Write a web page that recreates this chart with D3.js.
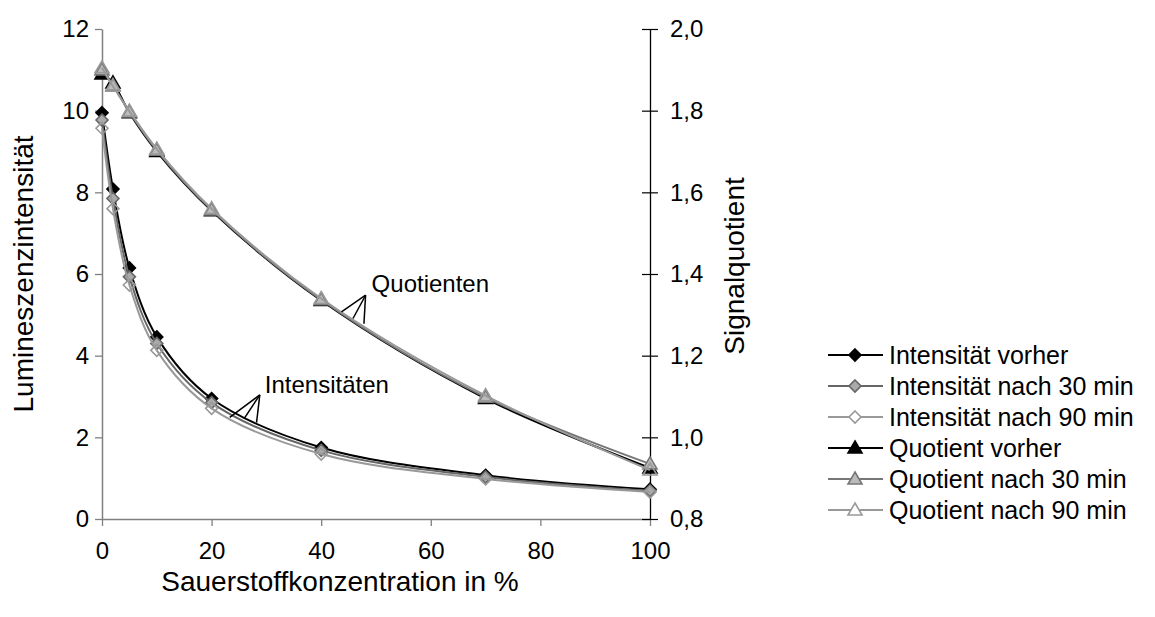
<!DOCTYPE html>
<html lang="de">
<head>
    <meta charset="UTF-8">
    <title>Lumineszenzintensität und Signalquotient</title>
    <script src="https://d3js.org/d3.v7.min.js"></script>
    <style>
        body { margin: 0; background: #fff; }
        svg { font-family: "Liberation Sans", Arial, sans-serif; }
        .tick text { font-size: 24px; fill: #000; }
        .axis-title { font-size: 28px; fill: #000; }
        .note { font-size: 24px; fill: #000; }
        .legend text { font-size: 25px; fill: #000; }
    </style>
</head>
<body>
    <svg width="1155" height="617"></svg>

    <script>
        // Sauerstoffkonzentration in %
        const oxygen = [0, 2, 5, 10, 20, 40, 70, 100];

        // Lumineszenzintensität (linke Achse)
        const intVorher = [9.95, 8.08, 6.15, 4.46, 2.95, 1.75, 1.07, 0.73];
        const int30 = [9.77, 7.85, 5.93, 4.30, 2.85, 1.68, 1.03, 0.69];
        const int90 = [9.57, 7.60, 5.73, 4.13, 2.71, 1.59, 0.98, 0.66];

        // Signalquotient (rechte Achse)
        const qVorher = [1.89, 1.868, 1.795, 1.700, 1.555, 1.335, 1.095, 0.925];
        const q30 = [1.90, 1.862, 1.797, 1.703, 1.557, 1.337, 1.098, 0.935];
        const q90 = [1.905, 1.860, 1.799, 1.706, 1.560, 1.340, 1.102, 0.920];

        const xTicks = [0, 20, 40, 60, 80, 100];
        const leftTicks = [0, 2, 4, 6, 8, 10, 12];
        const rightTicks = [0.8, 1.0, 1.2, 1.4, 1.6, 1.8, 2.0];

        const seriesNames = ["Intensität vorher", "Intensität nach 30 min", "Intensität nach 90 min",
                             "Quotient vorher", "Quotient nach 30 min", "Quotient nach 90 min"];

        const svg = d3.select("svg");
        const plot = {left: 102, right: 650, top: 29, bottom: 519};

        const x = d3.scaleLinear().domain([0, 100]).range([plot.left, plot.right]);
        const yL = d3.scaleLinear().domain([0, 12]).range([plot.bottom, plot.top]);
        const yR = d3.scaleLinear().domain([0.8, 2.0]).range([plot.bottom, plot.top]);

        const fmtComma = d => d3.format(".1f")(d).replace(".", ",");

        // series styling
        const series = [
            {name: seriesNames[0], vals: intVorher, y: yL, line: "#000", stroke: "#000", fill: "#000", shape: "diamond"},
            {name: seriesNames[1], vals: int30, y: yL, line: "#666", stroke: "#666", fill: "#aaa", shape: "diamond"},
            {name: seriesNames[2], vals: int90, y: yL, line: "#999", stroke: "#999", fill: "none", shape: "diamond"},
            {name: seriesNames[3], vals: qVorher, y: yR, line: "#000", stroke: "#000", fill: "#000", shape: "triangle"},
            {name: seriesNames[4], vals: q30, y: yR, line: "#777", stroke: "#777", fill: "#bbb", shape: "triangle"},
            {name: seriesNames[5], vals: q90, y: yR, line: "#999", stroke: "#999", fill: "none", shape: "triangle"}
        ];

        const markerPath = shape => shape === "diamond"
            ? "M0,-6L6,0L0,6L-6,0Z"
            : "M0,-7L7,5L-7,5Z";

        // x axis
        const gx = svg.append("g")
            .attr("transform", `translate(0,${plot.bottom})`)
            .call(d3.axisBottom(x).tickValues(xTicks).tickSize(7).tickSizeOuter(0).tickPadding(16));
        gx.select(".domain").attr("stroke", "#808080").attr("stroke-width", 1.5);
        gx.selectAll(".tick line").attr("stroke", "#808080").attr("stroke-width", 1.3);

        // left axis
        const gl = svg.append("g")
            .attr("transform", `translate(${plot.left},0)`)
            .call(d3.axisLeft(yL).tickValues(leftTicks).tickSize(7).tickSizeOuter(0).tickPadding(6));
        gl.select(".domain").attr("stroke", "#808080").attr("stroke-width", 1.5);
        gl.selectAll(".tick line").attr("stroke", "#808080").attr("stroke-width", 1.3);

        // right axis with crossing ticks
        const gr = svg.append("g")
            .attr("transform", `translate(${plot.right},0)`)
            .call(d3.axisRight(yR).tickValues(rightTicks).tickFormat(fmtComma).tickSize(8).tickSizeOuter(0).tickPadding(12));
        gr.select(".domain").attr("stroke", "#000").attr("stroke-width", 1.3);
        gr.selectAll(".tick line").attr("x1", -8).attr("x2", 8).attr("stroke", "#000").attr("stroke-width", 1.2);

        // axis titles
        svg.append("text").attr("class", "axis-title")
            .attr("x", 340).attr("y", 591)
            .attr("text-anchor", "middle")
            .text("Sauerstoffkonzentration in %");
        svg.append("text").attr("class", "axis-title")
            .attr("transform", `translate(33,${(plot.top + plot.bottom) / 2}) rotate(-90)`)
            .attr("text-anchor", "middle")
            .text("Lumineszenzintensität");
        svg.append("text").attr("class", "axis-title")
            .attr("transform", "translate(744,266) rotate(-90)")
            .attr("text-anchor", "middle")
            .text("Signalquotient");

        // lines + markers, in Excel series order
        series.forEach(s => {
            const line = d3.line()
                .x((d, i) => x(oxygen[i]))
                .y(d => s.y(d))
                .curve(d3.curveCatmullRom.alpha(0.5));
            svg.append("path")
                .datum(s.vals)
                .attr("d", line)
                .attr("fill", "none")
                .attr("stroke", s.line)
                .attr("stroke-width", 2);
            svg.append("g").selectAll("path")
                .data(s.vals)
                .join("path")
                .attr("d", markerPath(s.shape))
                .attr("transform", (d, i) => `translate(${x(oxygen[i])},${s.y(d)})`)
                .attr("fill", s.fill)
                .attr("stroke", s.stroke)
                .attr("stroke-width", 1.6);
        });

        // annotations, in data coordinates
        const notes = [
            {label: "Intensitäten", tx: 29.7, ty: 3.08, apex: [28.8, 3.04],
             ends: [[23.3, 2.49], [26.0, 2.47], [28.2, 2.36]], y: yL},
            {label: "Quotienten", tx: 49.2, ty: 1.355, apex: [48.1, 1.348],
             ends: [[43.7, 1.307], [45.8, 1.291], [47.8, 1.278]], y: yR}
        ];
        notes.forEach(n => {
            n.ends.forEach(e => {
                svg.append("line")
                    .attr("x1", x(n.apex[0])).attr("y1", n.y(n.apex[1]))
                    .attr("x2", x(e[0])).attr("y2", n.y(e[1]))
                    .attr("stroke", "#000").attr("stroke-width", 1.5);
            });
            svg.append("text").attr("class", "note")
                .attr("x", x(n.tx)).attr("y", n.y(n.ty))
                .text(n.label);
        });

        // legend
        const legend = svg.append("g").attr("class", "legend");
        series.forEach((s, i) => {
            const ly = 355 + i * 31;
            legend.append("line")
                .attr("x1", 828).attr("x2", 883).attr("y1", ly).attr("y2", ly)
                .attr("stroke", s.line).attr("stroke-width", 2);
            legend.append("path")
                .attr("d", markerPath(s.shape))
                .attr("transform", `translate(855,${ly})`)
                .attr("fill", s.fill === "none" ? "#fff" : s.fill)
                .attr("stroke", s.stroke).attr("stroke-width", 1.6);
            legend.append("text")
                .attr("x", 889).attr("y", ly).attr("dy", "0.35em")
                .text(s.name);
        });
    </script>
</body>
</html>
